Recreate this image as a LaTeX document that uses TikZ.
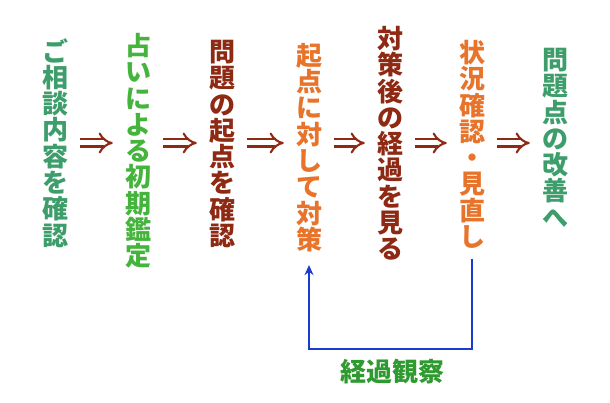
\documentclass[tikz,border=0pt]{standalone}
\usepackage{fontspec}
\newfontfamily\cjk{Noto Sans CJK JP}[BoldFont={Noto Sans CJK JP Black}]
\usetikzlibrary{arrows.meta}
\definecolor{soudan}{HTML}{3D9E6B}
\definecolor{uranai}{HTML}{45B43C}
\definecolor{kiten}{HTML}{8E2A14}
\definecolor{taisaku}{HTML}{E8732A}
\definecolor{modoriblue}{HTML}{1A3AD0}
\definecolor{kansatsu}{HTML}{2F9A2F}
\tikzset{
  tate/.style={font=\cjk\bfseries\fontsize{26}{26.3}\selectfont, align=center, inner sep=0pt, anchor=north},
  yaji/.style={kiten, line width=2.1pt, double distance=5pt, -{Implies[scale=1.35]}, shorten <=12pt, shorten >=12pt},
  modori/.style={modoriblue, line width=2.9pt, -{Stealth[length=10pt,width=9pt]}}
}
\begin{document}
\begin{tikzpicture}[x=1pt,y=-1pt]
\useasboundingbox[fill=white] (0,0) rectangle (610,403);
\node[tate, soudan]  (c1) at (55,38)  {ご\\相\\談\\内\\容\\を\\確\\認};
\node[tate, uranai]  (c2) at (138,33) {占\\い\\に\\よ\\る\\初\\期\\鑑\\定};
\node[tate, kiten]   (c3) at (222,40) {問\\題\\の\\起\\点\\を\\確\\認};
\node[tate, taisaku] (c4) at (309,43) {起\\点\\に\\対\\し\\て\\対\\策};
\node[tate, kiten]   (c5) at (390,26) {対\\策\\後\\の\\経\\過\\を\\見\\る};
\node[tate, taisaku] (c6) at (472,40) {状\\況\\確\\認\\・\\見\\直\\し};
\node[tate, soudan]  (c7) at (555,48) {問\\題\\点\\の\\改\\善\\へ};
\coordinate (m) at (0,143);
\foreach \a/\b in {c1/c2, c2/c3, c3/c4, c4/c5, c5/c6, c6/c7}
    \draw[yaji] (\a.east |- m) -- (\b.west |- m);
\coordinate (b) at (0,349);
\draw[modori, shorten <=10pt, shorten >=13pt] (c6.south) -- (c6.south |- b) -- (c4.south |- b) -- (c4.south);
\node[font=\cjk\bfseries\fontsize{26}{26}\selectfont, kansatsu, inner sep=0pt] (obs) at (392,372) {経過観察};
\end{tikzpicture}
\end{document}
